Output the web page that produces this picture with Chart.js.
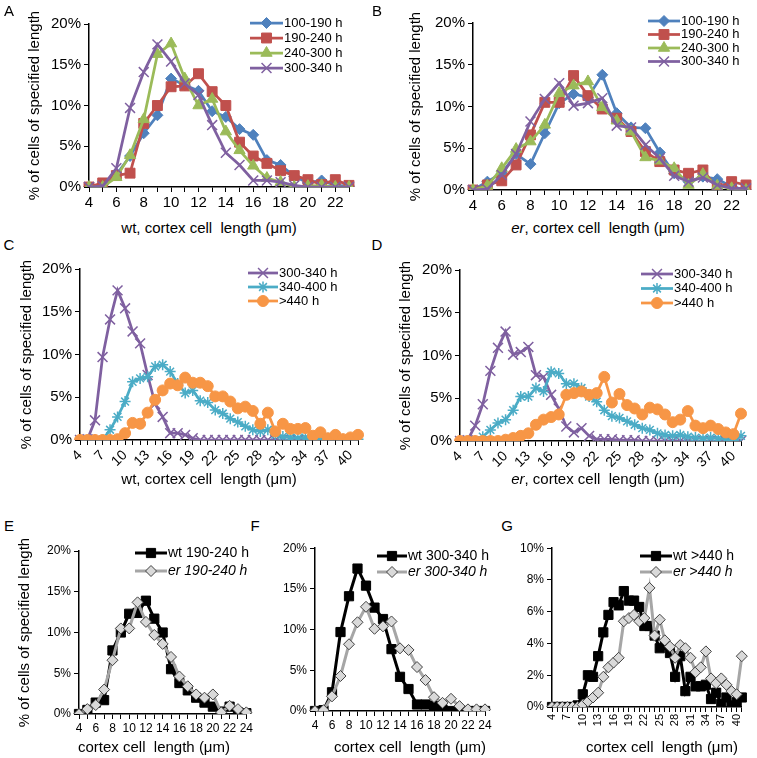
<!DOCTYPE html>
<html>
<head>
<meta charset="utf-8">
<script src="https://cdn.jsdelivr.net/npm/chart.js@4.4.1/dist/chart.umd.min.js"></script>
<style>
    body { margin: 0; background: #fff; width: 757px; height: 758px; position: relative; overflow: hidden; font-family: 'Liberation Sans', Arial, sans-serif; }
    canvas { position: absolute; }
    .txt { position: absolute; font-size: 15px; line-height: 15px; color: #000; white-space: nowrap; transform: translate(-50%, -50%); }
</style>
</head>
<body>

<canvas id="chartA"></canvas>
<canvas id="chartB"></canvas>
<canvas id="chartC"></canvas>
<canvas id="chartD"></canvas>
<canvas id="chartE"></canvas>
<canvas id="chartF"></canvas>
<canvas id="chartG"></canvas>

<div class="txt" style="left:9px;top:10px">A</div>
<div class="txt" style="left:377px;top:10px">B</div>
<div class="txt" style="left:9px;top:244px">C</div>
<div class="txt" style="left:377px;top:244px">D</div>
<div class="txt" style="left:9px;top:525px">E</div>
<div class="txt" style="left:255px;top:525px">F</div>
<div class="txt" style="left:507px;top:525px">G</div>

<div class="txt" style="left:209px;top:227px">wt, cortex cell&nbsp; length (&mu;m)</div>
<div class="txt" style="left:598px;top:227px"><i>er</i>, cortex cell&nbsp; length (&mu;m)</div>
<div class="txt" style="left:209px;top:478px">wt, cortex cell&nbsp; length (&mu;m)</div>
<div class="txt" style="left:598px;top:478px"><i>er</i>, cortex cell&nbsp; length (&mu;m)</div>
<div class="txt" style="left:154px;top:746px">cortex cell&nbsp; length (&mu;m)</div>
<div class="txt" style="left:410px;top:746px">cortex cell&nbsp; length (&mu;m)</div>
<div class="txt" style="left:662px;top:746px">cortex cell&nbsp; length (&mu;m)</div>

<script>
// cell length classes (um)
const lenAB = ['4','5','6','7','8','9','10','11','12','13','14','15','16','17','18','19','20','21','22','23'];
const lenEF = ['4','5','6','7','8','9','10','11','12','13','14','15','16','17','18','19','20','21','22','23','24'];
const lenCD = ['4','5','6','7','8','9','10','11','12','13','14','15','16','17','18','19','20','21','22','23',
               '24','25','26','27','28','29','30','31','32','33','34','35','36','37','38','39','40','41'];

// % of cells, wt
const wt100_190 = [0,0.3,1.5,3.8,6.6,8.8,13.3,12.5,11.8,9.3,8.6,7.1,6.4,3.3,2.7,1.3,0.5,0.8,0.2,0.1];
const wt190_240 = [0,0.5,1.4,1.7,7.8,10.0,12.3,12.4,13.9,11.7,10.0,5.5,3.8,2.9,2.0,1.4,0.9,0.3,0.9,0.2,0.1];
const wt240_300 = [0,0,1.2,3.9,8.3,16.3,17.6,13.3,10.0,10.8,6.8,4.5,2.6,1.1,0.6,0,0.1,0.2,0,0];
const wt300_340 = [0,0.1,2.3,9.7,14.1,17.5,15.4,12.7,11.3,7.6,4.2,2.7,0.8,0.8,0.6,0.2,0,0,0,0,
                   0,0,0,0,0,0,0,0,0,0,0,0,0,0,0,0,0,0];
const wt340_400 = [0,0,0,0,1.2,2.7,4.5,6.8,7.2,7.4,8.6,8.8,8.0,6.6,5.5,5.8,4.6,4.4,3.5,3.1,
                   2.5,2.1,1.6,1.2,1.0,1.2,0.6,0.4,0.3,0.2,0.3,0.1,0.1,0.2,0.1,0.1,0,0.1];
const wtOver440 = [0,0,0,0,0,0.1,0.8,2.0,1.9,3.2,4.7,5.8,6.6,6.4,7.3,6.7,6.7,6.3,5.1,5.1,
                   4.5,3.7,3.9,3.4,1.9,3.2,1.0,1.9,1.3,1.3,1.4,0.5,0.9,0.2,0.6,0.1,0.3,0.6];

// % of cells, er
const er100_190 = [0,1.0,2.0,4.3,3.1,6.8,10.4,11.5,11.1,13.8,9.2,7.5,7.4,4.5,2.0,1.0,1.6,1.3,0.4,0];
const er190_240 = [0,0.6,1.1,3.0,6.6,10.5,10.5,13.7,11.3,9.7,8.6,7.0,4.6,3.4,2.4,2.0,2.4,0.2,1.0,0.6,0.2];
const er240_300 = [0,0.5,2.6,4.9,5.8,7.8,11.6,12.5,13.0,9.9,8.3,7.0,3.9,3.5,2.6,0.6,1.9,0.5,0.2,0];
const er300_340 = [0,0.1,1.8,4.3,8.2,10.9,12.8,10.1,10.4,11.0,7.7,7.5,5.4,3.8,1.7,1.0,1.5,0.6,0.2,0.2,
                   0.2,0.1,0.1,0.1,0,0,0,0,0,0,0,0,0,0,0,0,0,0];
const er340_400 = [0,0,0,0.5,1.3,2.1,2.5,3.6,5.2,5.2,6.2,5.8,8.1,7.9,6.7,6.7,6.2,5.2,4.6,3.6,
                   2.9,2.7,2.3,1.9,1.5,1.3,0.9,0.7,0.6,0.7,0.5,0.4,0.3,0.4,0.3,0.2,0.1,0.6];
const erOver440 = [0,0,0,0,0,0,0.15,0.35,0.6,0.9,1.9,2.5,2.8,3.1,5.4,5.6,5.8,5.4,5.6,7.5,
                   4.5,5.5,4.2,3.8,3.1,3.9,3.7,3.1,2.2,2.5,3.5,1.8,1.5,1.8,1.4,1.0,0.8,3.2];

const FONT = "'Liberation Sans', Arial, sans-serif";

// line + marker + label key, drawn like the spreadsheet legend
const seriesKey = {
    id: 'seriesKey',
    afterDraw(chart, args, o) {
        const ctx = chart.ctx;
        ctx.save();
        chart.data.datasets.forEach(function (ds, i) {
            const x = o.x - o.ox, y = o.y - o.oy + i * o.rowH;
            ctx.strokeStyle = ds.borderColor;
            ctx.lineWidth = ds.borderWidth;
            ctx.beginPath(); ctx.moveTo(x, y); ctx.lineTo(x + o.lineW, y); ctx.stroke();
            ctx.fillStyle = ds.pointBackgroundColor;
            ctx.strokeStyle = ds.pointBorderColor;
            ctx.lineWidth = ds.pointBorderWidth;
            Chart.helpers.drawPoint(ctx, { pointStyle: ds.pointStyle, radius: ds.pointRadius, borderWidth: ds.pointBorderWidth, rotation: 0 }, x + o.lineW / 2, y);
            ctx.fillStyle = '#000';
            ctx.font = (ds.italic ? 'italic ' : '') + o.size + 'px ' + FONT;
            ctx.textAlign = 'left';
            ctx.textBaseline = 'middle';
            ctx.fillText(ds.label, x + o.lineW + 1, y);
        });
        ctx.restore();
    }
};

function series(label, data, color, style, radius, extra) {
    return Object.assign({
        label: label, data: data,
        borderColor: color, backgroundColor: color,
        pointBackgroundColor: color, pointBorderColor: color,
        pointStyle: style, pointRadius: radius, pointHoverRadius: radius,
        pointBorderWidth: 1, borderWidth: 2.75, tension: 0
    }, extra || {});
}

// box: canvas on page, area: plot area on page
function panel(id, box, area, labels, every, yMax, yStep, datasets, p) {
    const canvas = document.getElementById(id);
    canvas.style.left = box.x + 'px';
    canvas.style.top = box.y + 'px';
    canvas.width = box.w;
    canvas.height = box.h;
    const n = datasets.length;
    datasets.forEach(function (ds, i) { ds.order = n - i; });

    new Chart(canvas, {
        type: 'line',
        data: { labels: labels, datasets: datasets },
        plugins: [seriesKey],
        options: {
            responsive: false,
            animation: false,
            layout: { padding: { top: area.t - box.y, right: box.x + box.w - area.r, left: 0, bottom: 0 } },
            plugins: {
                legend: { display: false },
                tooltip: { enabled: false },
                seriesKey: Object.assign({ ox: box.x, oy: box.y }, p.key)
            },
            scales: {
                x: {
                    afterFit: function (s) { s.height = box.y + box.h - area.b; },
                    border: { color: '#000', width: 1.5 },
                    grid: { drawOnChartArea: false, color: '#000', tickLength: 5, lineWidth: 1 },
                    ticks: {
                        autoSkip: false, maxRotation: p.rot, minRotation: p.rot, padding: p.xpad || 2,
                        color: '#000', font: { family: FONT, size: p.xsize },
                        callback: function (v, i) { return i % every === 0 ? labels[i] : ''; }
                    }
                },
                y: {
                    min: 0, max: yMax,
                    afterFit: function (s) { s.width = area.l - box.x; },
                    border: { color: '#000', width: 1.5 },
                    grid: { drawOnChartArea: false, color: '#000', tickLength: 5, lineWidth: 1 },
                    ticks: {
                        stepSize: yStep, padding: 3, color: '#000',
                        font: { family: FONT, size: p.ysize },
                        callback: function (v) { return v + '%'; }
                    },
                    title: {
                        display: !!p.ytitle, text: '% of cells of specified length', color: '#000',
                        font: { family: FONT, size: 15 },
                        padding: { top: (p.ytitle || 0) - box.x - 9, bottom: 0 }
                    }
                }
            }
        }
    });
}

const BLUE = '#4F81BD', RED = '#C0504D', GREEN = '#9BBB59', PURPLE = '#7F60A0', TEAL = '#4BACC6', ORANGE = '#F79646';
const GRAY = '#A6A6A6';

function wtLine(label, data) { return series(label, data, '#000', 'rect', 6.5, { borderWidth: 3 }); }
function erLine(label, data) {
    return series(label, data, GRAY, 'rectRot', 5.5, { pointBackgroundColor: '#D9D9D9', pointBorderColor: '#404040', pointBorderWidth: 1, borderWidth: 3, italic: true });
}

panel('chartA', { x: 0, y: 10, w: 372, h: 205 }, { l: 89, t: 24, r: 349, b: 187 }, lenAB, 2, 20, 5, [
    series('100-190 h', wt100_190, BLUE, 'rectRot', 5.5),
    series('190-240 h', wt190_240.slice(0, 20), RED, 'rect', 7),
    series('240-300 h', wt240_300, GREEN, 'triangle', 6.5),
    series('300-340 h', wt300_340.slice(0, 20), PURPLE, 'crossRot', 7, { pointBorderWidth: 1.5 })
], { rot: 0, xsize: 15, ysize: 15, ytitle: 35, key: { x: 250, y: 23, rowH: 15, lineW: 33, size: 13 } });

panel('chartB', { x: 378, y: 10, w: 379, h: 205 }, { l: 473, t: 23, r: 746, b: 190 }, lenAB, 2, 20, 5, [
    series('100-190 h', er100_190, BLUE, 'rectRot', 5.5),
    series('190-240 h', er190_240.slice(0, 20), RED, 'rect', 7),
    series('240-300 h', er240_300, GREEN, 'triangle', 6.5),
    series('300-340 h', er300_340.slice(0, 20), PURPLE, 'crossRot', 7, { pointBorderWidth: 1.5 })
], { rot: 0, xsize: 15, ysize: 15, ytitle: 416, key: { x: 648, y: 21, rowH: 13.5, lineW: 32, size: 13 } });

panel('chartC', { x: 0, y: 255, w: 372, h: 215 }, { l: 80, t: 269, r: 358, b: 440 }, lenCD, 3, 20, 5, [
    series('300-340 h', wt300_340, PURPLE, 'crossRot', 7, { pointBorderWidth: 1.5 }),
    series('340-400 h', wt340_400, TEAL, 'star', 5.5, { pointBorderWidth: 1.5 }),
    series('>440 h', wtOver440, ORANGE, 'circle', 5.5)
], { rot: 45, xsize: 14, ysize: 15, ytitle: 27, key: { x: 248, y: 273, rowH: 14, lineW: 30, size: 13 } });

panel('chartD', { x: 378, y: 255, w: 379, h: 215 }, { l: 460, t: 270, r: 741, b: 441 }, lenCD, 3, 20, 5, [
    series('300-340 h', er300_340, PURPLE, 'crossRot', 7, { pointBorderWidth: 1.5 }),
    series('340-400 h', er340_400, TEAL, 'star', 5.5, { pointBorderWidth: 1.5 }),
    series('>440 h', erOver440, ORANGE, 'circle', 5.5)
], { rot: 45, xsize: 14, ysize: 15, ytitle: 406, key: { x: 641, y: 274, rowH: 14.5, lineW: 32, size: 13 } });

panel('chartE', { x: 0, y: 538, w: 255, h: 200 }, { l: 79, t: 551, r: 248, b: 714 }, lenEF, 2, 20, 5, [
    wtLine('wt 190-240 h', wt190_240),
    erLine('er 190-240 h', er190_240)
], { rot: 0, xsize: 12, ysize: 12, ytitle: 25, key: { x: 135, y: 553, rowH: 18, lineW: 32, size: 14 } });

panel('chartF', { x: 255, y: 538, w: 245, h: 200 }, { l: 315, t: 548, r: 485, b: 711 }, lenEF, 2, 20, 5, [
    wtLine('wt 300-340 h', wt300_340.slice(0, 21)),
    erLine('er 300-340 h', er300_340.slice(0, 21))
], { rot: 0, xsize: 12, ysize: 12, key: { x: 377, y: 556, rowH: 16, lineW: 30, size: 14 } });

panel('chartG', { x: 500, y: 538, w: 257, h: 200 }, { l: 552, t: 548, r: 748, b: 707 }, lenCD, 3, 10, 2, [
    wtLine('wt >440 h', wtOver440),
    erLine('er >440 h', erOver440)
], { rot: 90, xsize: 11, ysize: 12, key: { x: 640, y: 556, rowH: 16, lineW: 32, size: 14 } });
</script>
</body>
</html>
